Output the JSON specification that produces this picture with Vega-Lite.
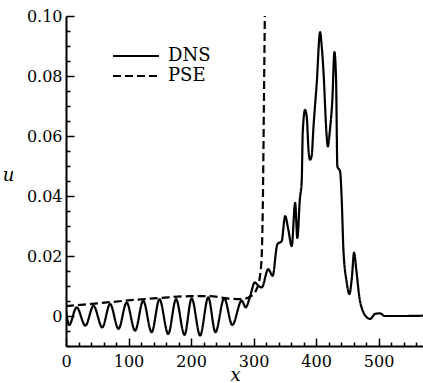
{
  "$schema": "https://vega.github.io/schema/vega-lite/v6.json",
  "width": 357,
  "height": 330,
  "autosize": {"type": "none"},
  "padding": {"left": 66, "top": 16, "right": 0, "bottom": 37},
  "background": "white",
  "config": {"view": {"stroke": null}, "font": "DejaVu Serif"},
  "data": {
    "values": [
      {"series": "DNS", "x": 0, "u": 0.002},
      {"series": "DNS", "x": 5, "u": -0.003},
      {"series": "DNS", "x": 17, "u": 0.0029},
      {"series": "DNS", "x": 31, "u": -0.0032},
      {"series": "DNS", "x": 44, "u": 0.0034},
      {"series": "DNS", "x": 58, "u": -0.0038},
      {"series": "DNS", "x": 70.5, "u": 0.004},
      {"series": "DNS", "x": 84, "u": -0.0043},
      {"series": "DNS", "x": 97, "u": 0.0045},
      {"series": "DNS", "x": 110.5, "u": -0.0049},
      {"series": "DNS", "x": 123.5, "u": 0.0051},
      {"series": "DNS", "x": 137, "u": -0.0054},
      {"series": "DNS", "x": 149.5, "u": 0.0056},
      {"series": "DNS", "x": 163.5, "u": -0.006},
      {"series": "DNS", "x": 176, "u": 0.0056},
      {"series": "DNS", "x": 189.5, "u": -0.0063},
      {"series": "DNS", "x": 201, "u": 0.0059},
      {"series": "DNS", "x": 214.5, "u": -0.0065},
      {"series": "DNS", "x": 227.5, "u": 0.0062},
      {"series": "DNS", "x": 239, "u": -0.0054},
      {"series": "DNS", "x": 253, "u": 0.0059},
      {"series": "DNS", "x": 266, "u": -0.003},
      {"series": "DNS", "x": 281, "u": 0.0051},
      {"series": "DNS", "x": 287.5, "u": 0.0029},
      {"series": "DNS", "x": 294, "u": 0.0062},
      {"series": "DNS", "x": 302, "u": 0.0112},
      {"series": "DNS", "x": 308, "u": 0.01},
      {"series": "DNS", "x": 313, "u": 0.0095},
      {"series": "DNS", "x": 323.5, "u": 0.0156},
      {"series": "DNS", "x": 330.5, "u": 0.0134},
      {"series": "DNS", "x": 338, "u": 0.0239},
      {"series": "DNS", "x": 345, "u": 0.025},
      {"series": "DNS", "x": 350.5, "u": 0.0333},
      {"series": "DNS", "x": 355.5, "u": 0.0289},
      {"series": "DNS", "x": 361, "u": 0.0233},
      {"series": "DNS", "x": 366.5, "u": 0.0377},
      {"series": "DNS", "x": 370, "u": 0.026},
      {"series": "DNS", "x": 374, "u": 0.0388},
      {"series": "DNS", "x": 377, "u": 0.0449},
      {"series": "DNS", "x": 378.7, "u": 0.0615},
      {"series": "DNS", "x": 382.4, "u": 0.0687},
      {"series": "DNS", "x": 385, "u": 0.0665},
      {"series": "DNS", "x": 388, "u": 0.055},
      {"series": "DNS", "x": 390.4, "u": 0.0521},
      {"series": "DNS", "x": 393, "u": 0.0535},
      {"series": "DNS", "x": 395.7, "u": 0.0626},
      {"series": "DNS", "x": 401, "u": 0.0775},
      {"series": "DNS", "x": 406.4, "u": 0.0946},
      {"series": "DNS", "x": 409, "u": 0.09},
      {"series": "DNS", "x": 411.7, "u": 0.0819},
      {"series": "DNS", "x": 417, "u": 0.0598},
      {"series": "DNS", "x": 418.7, "u": 0.0565},
      {"series": "DNS", "x": 422.4, "u": 0.0626},
      {"series": "DNS", "x": 426, "u": 0.072},
      {"series": "DNS", "x": 429.3, "u": 0.088},
      {"series": "DNS", "x": 432, "u": 0.0786},
      {"series": "DNS", "x": 434, "u": 0.0499},
      {"series": "DNS", "x": 438.4, "u": 0.0482},
      {"series": "DNS", "x": 441, "u": 0.0388},
      {"series": "DNS", "x": 443.7, "u": 0.0222},
      {"series": "DNS", "x": 449, "u": 0.0112},
      {"series": "DNS", "x": 453.3, "u": 0.0073},
      {"series": "DNS", "x": 457, "u": 0.0123},
      {"series": "DNS", "x": 460.8, "u": 0.0211},
      {"series": "DNS", "x": 464, "u": 0.016},
      {"series": "DNS", "x": 469.3, "u": 0.0062},
      {"series": "DNS", "x": 475.7, "u": 0.0012},
      {"series": "DNS", "x": 481, "u": -0.0004},
      {"series": "DNS", "x": 486.4, "u": -0.001},
      {"series": "DNS", "x": 494.4, "u": 0.0007},
      {"series": "DNS", "x": 502, "u": 0.0009},
      {"series": "DNS", "x": 510, "u": 0.0},
      {"series": "DNS", "x": 540, "u": 0.0},
      {"series": "DNS", "x": 571, "u": 0.0001},
      {"series": "PSE", "x": 0, "u": 0.0033},
      {"series": "PSE", "x": 50, "u": 0.0042},
      {"series": "PSE", "x": 100, "u": 0.0052},
      {"series": "PSE", "x": 150, "u": 0.006},
      {"series": "PSE", "x": 200, "u": 0.0066},
      {"series": "PSE", "x": 230, "u": 0.0066},
      {"series": "PSE", "x": 260, "u": 0.0058},
      {"series": "PSE", "x": 280, "u": 0.0056},
      {"series": "PSE", "x": 295, "u": 0.0065},
      {"series": "PSE", "x": 305, "u": 0.009},
      {"series": "PSE", "x": 310, "u": 0.013},
      {"series": "PSE", "x": 313, "u": 0.02},
      {"series": "PSE", "x": 315, "u": 0.04},
      {"series": "PSE", "x": 316.5, "u": 0.07},
      {"series": "PSE", "x": 318, "u": 0.1}
    ]
  },
  "mark": {"type": "line", "stroke": "black", "strokeWidth": 2.2, "clip": true, "interpolate": "monotone"},
  "encoding": {
    "x": {
      "field": "x",
      "type": "quantitative",
      "scale": {"domain": [0, 571], "nice": false, "zero": false},
      "axis": {
        "title": "x",
        "titleFont": "DejaVu Serif",
        "titleFontStyle": "italic",
        "titleFontWeight": "normal",
        "titleFontSize": 18,
        "titleColor": "black",
        "titleX": 169,
        "titleY": 34,
        "titleAlign": "center",
        "titleBaseline": "alphabetic",
        "values": [0, 20, 40, 60, 80, 100, 120, 140, 160, 180, 200, 220, 240, 260, 280, 300, 320, 340, 360, 380, 400, 420, 440, 460, 480, 500, 520, 540, 560],
        "labelExpr": "datum.value % 100 === 0 ? datum.label : ''",
        "labelFont": "DejaVu Serif",
        "labelFontSize": 16,
        "labelColor": "black",
        "labelPadding": 15,
        "labelFlush": false,
        "labelOverlap": false,
        "grid": false,
        "domainColor": "black",
        "domainWidth": 2,
        "tickColor": "black",
        "tickWidth": 1.5,
        "tickSize": {"condition": {"test": "datum.value % 100 === 0", "value": -8}, "value": -4}
      }
    },
    "y": {
      "field": "u",
      "type": "quantitative",
      "scale": {"domain": [-0.01, 0.1], "nice": false, "zero": false},
      "axis": {
        "title": "u",
        "titleFont": "DejaVu Serif",
        "titleFontStyle": "italic",
        "titleFontWeight": "normal",
        "titleFontSize": 18,
        "titleColor": "black",
        "titleAngle": 0,
        "titleX": -58,
        "titleY": 164,
        "titleAlign": "center",
        "titleBaseline": "alphabetic",
        "values": [-0.01, -0.005, 0, 0.005, 0.01, 0.015, 0.02, 0.025, 0.03, 0.035, 0.04, 0.045, 0.05, 0.055, 0.06, 0.065, 0.07, 0.075, 0.08, 0.085, 0.09, 0.095, 0.1],
        "labelExpr": "abs(datum.value * 50 - round(datum.value * 50)) < 1e-6 && datum.value >= 0 ? (abs(datum.value) < 1e-9 ? '0' : format(datum.value, '.2f')) : ''",
        "labelFont": "DejaVu Serif",
        "labelFontSize": 16,
        "labelColor": "black",
        "labelPadding": 12,
        "labelFlush": false,
        "labelOverlap": false,
        "grid": false,
        "domainColor": "black",
        "domainWidth": 2,
        "tickColor": "black",
        "tickWidth": 1.5,
        "tickSize": {"condition": {"test": "abs(datum.value * 50 - round(datum.value * 50)) < 1e-6", "value": -8}, "value": -4}
      }
    },
    "strokeDash": {
      "field": "series",
      "type": "nominal",
      "scale": {"domain": ["DNS", "PSE"], "range": [[1, 0], [8, 4]]},
      "legend": {
        "title": null,
        "orient": "none",
        "legendX": 61,
        "legendY": 31,
        "symbolType": "M-4,0H4",
        "symbolSize": 132,
        "symbolStrokeWidth": 2,
        "symbolStrokeColor": "black",
        "labelFont": "DejaVu Serif",
        "labelFontSize": 18,
        "labelColor": "black",
        "labelOffset": 23,
        "rowPadding": 2,
        "padding": 0
      }
    }
  }
}
